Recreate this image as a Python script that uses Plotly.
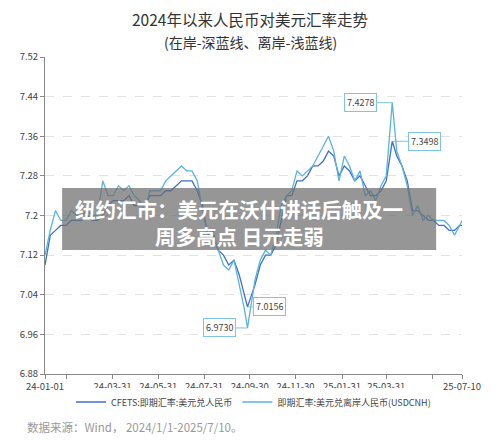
import plotly.graph_objects as go

dates = ["2024-01-01","2024-01-08","2024-01-15","2024-01-22","2024-01-29","2024-02-05","2024-02-12","2024-02-19","2024-02-26",
"2024-03-04","2024-03-11","2024-03-18","2024-03-25","2024-04-01","2024-04-08","2024-04-15","2024-04-22","2024-04-29",
"2024-05-06","2024-05-13","2024-05-20","2024-05-27","2024-06-03","2024-06-10","2024-06-17","2024-06-24","2024-07-01",
"2024-07-08","2024-07-15","2024-07-22","2024-07-29","2024-08-05","2024-08-12","2024-08-19","2024-08-26","2024-09-02",
"2024-09-09","2024-09-16","2024-09-23","2024-09-27","2024-10-07","2024-10-14","2024-10-21","2024-10-28","2024-11-04",
"2024-11-11","2024-11-18","2024-11-25","2024-12-02","2024-12-09","2024-12-16","2024-12-23","2024-12-30","2025-01-06",
"2025-01-13","2025-01-20","2025-01-27","2025-02-03","2025-02-10","2025-02-17","2025-02-24","2025-03-03","2025-03-10",
"2025-03-17","2025-03-24","2025-03-31","2025-04-08","2025-04-14","2025-04-21","2025-04-28","2025-05-05","2025-05-12",
"2025-05-19","2025-05-26","2025-06-02","2025-06-09","2025-06-16","2025-06-23","2025-06-30","2025-07-07","2025-07-10"]
onshore = [7.10,7.16,7.17,7.18,7.18,7.19,7.19,7.19,7.20,7.19,7.19,7.20,7.22,7.23,7.23,7.23,7.24,7.22,
7.22,7.22,7.24,7.24,7.24,7.25,7.25,7.26,7.27,7.27,7.27,7.25,7.22,7.16,7.16,7.13,7.12,7.10,
7.11,7.08,7.04,7.0156,7.06,7.10,7.12,7.12,7.14,7.19,7.24,7.24,7.27,7.27,7.28,7.30,7.30,7.31,
7.33,7.32,7.28,7.30,7.29,7.27,7.28,7.26,7.24,7.24,7.25,7.27,7.3498,7.32,7.30,7.27,7.21,7.21,
7.20,7.19,7.19,7.18,7.18,7.17,7.17,7.18,7.18]
offshore = [7.12,7.17,7.21,7.19,7.19,7.21,7.20,7.20,7.21,7.20,7.20,7.27,7.24,7.24,7.26,7.25,7.26,7.24,
7.23,7.21,7.25,7.25,7.25,7.27,7.28,7.29,7.30,7.29,7.29,7.27,7.21,7.16,7.17,7.13,7.10,7.09,
7.11,7.06,7.01,6.9730,7.07,7.11,7.13,7.12,7.16,7.22,7.24,7.25,7.29,7.28,7.29,7.30,7.32,7.34,
7.36,7.33,7.27,7.32,7.30,7.27,7.29,7.24,7.25,7.23,7.26,7.28,7.4278,7.33,7.30,7.26,7.20,7.22,
7.19,7.20,7.19,7.19,7.19,7.18,7.16,7.18,7.19]
tick_vals = ["2024-01-01","2024-01-30","2024-03-31","2024-05-31","2024-07-31","2024-09-30","2024-11-30","2025-01-31","2025-03-31","2025-06-01","2025-07-10"]
tick_text = ["24-01-01","","24-03-31","24-05-31","24-07-31","24-09-30","24-11-30","25-01-31","25-03-31","","25-07-10"]
y_ticks = [6.88,6.96,7.04,7.12,7.2,7.28,7.36,7.44,7.52]
callouts = [("2025-04-08",7.4278,"7.4278",-32),("2025-04-08",7.3498,"7.3498",32),
            ("2024-09-27",6.9730,"6.9730",-28),("2024-09-27",7.0156,"7.0156",22)]

font = "Noto Sans CJK SC"
fig = go.Figure()
fig.add_trace(go.Scatter(x=dates, y=onshore, mode="lines", name="CFETS:即期汇率:美元兑人民币",
                         line=dict(color="#3f6fc4", width=1.3)))
fig.add_trace(go.Scatter(x=dates, y=offshore, mode="lines", name="即期汇率:美元兑离岸人民币(USDCNH)",
                         line=dict(color="#5ab4e0", width=1.3)))
for d, v, t, ax in callouts:
    fig.add_annotation(x=d, y=v, xref="x", yref="y", text=t, showarrow=True, arrowhead=0, arrowwidth=1,
                       arrowcolor="#7fc4e0", ax=ax, ay=0, bordercolor="#7fc4e0", borderwidth=1, bgcolor="white",
                       borderpad=2, font=dict(size=9, color="#444"))
H = 433
fig.update_layout(
    width=492, height=H, margin=dict(l=37, r=38, t=49, b=67),
    plot_bgcolor="white", paper_bgcolor="white", font=dict(family=font, size=10, color="#444"),
    showlegend=True,
    legend=dict(orientation="h", x=0.5, xanchor="center", yref="container", y=(H-394)/H, yanchor="middle",
                font=dict(size=9, color="#444")),
    xaxis=dict(type="date", range=["2024-01-01","2025-07-10"], tickvals=tick_vals, ticktext=tick_text,
               showgrid=False, showline=True, linecolor="#888", ticks="outside", ticklen=4, tickcolor="#888",
               tickfont=dict(size=9.5), automargin=False),
    yaxis=dict(range=[6.88,7.52], tickvals=y_ticks, ticktext=[str(v) for v in y_ticks],
               showgrid=True, gridcolor="#e3e3e3", griddash="dash", showline=True, linecolor="#888",
               ticks="outside", ticklen=4, tickcolor="#888", tickfont=dict(size=9.5), zeroline=False, automargin=False),
    shapes=[dict(type="rect", xref="paper", yref="paper", x0=0.041, x1=0.938, y0=0.391, y1=0.587,
                 fillcolor="rgba(110,110,110,0.72)", line=dict(width=0), layer="above")],
)
def py(p):
    return (374 - p) / 317
def px(p):
    return (p - 45) / 417
extra = [
    dict(x=px(250), y=py(18.5), text="2024年以来人民币对美元汇率走势", font=dict(size=15.5, color="#333")),
    dict(x=px(250), y=py(42), text="(在岸-深蓝线、离岸-浅蓝线)", font=dict(size=14, color="#333")),
    dict(x=px(239), y=py(209), text="<b>纽约汇市：美元在沃什讲话后触及一</b>", font=dict(size=20.5, color="white")),
    dict(x=px(239), y=py(236), text="<b>周多高点 日元走弱</b>", font=dict(size=20.5, color="white")),
    dict(x=px(25), y=py(427), text="数据来源：Wind， 2024/1/1-2025/7/10。", font=dict(size=11.5, color="#999"), xanchor="left"),
]
for e in extra:
    e.update(xref="paper", yref="paper", showarrow=False, yanchor="middle")
    e.setdefault("xanchor", "center")
    fig.add_annotation(**e)
fig.write_html("out.html")
